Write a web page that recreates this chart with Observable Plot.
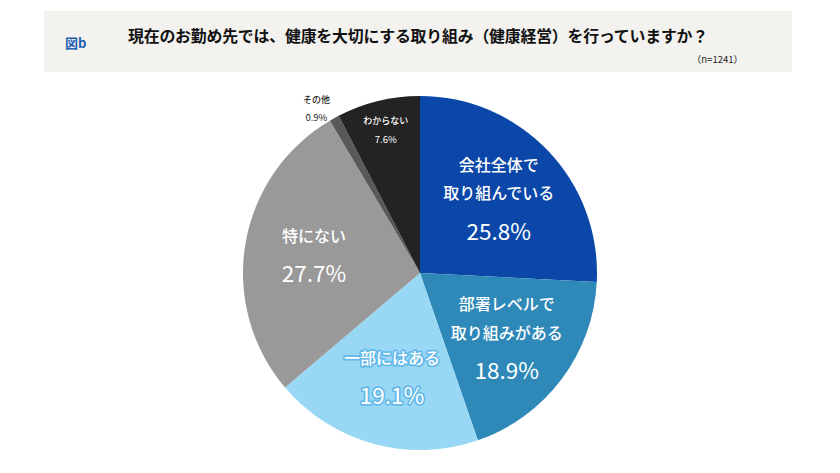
<!DOCTYPE html>
<html><head><meta charset="utf-8">
<script src="https://cdn.jsdelivr.net/npm/d3@7"></script>
<script src="https://cdn.jsdelivr.net/npm/@observablehq/plot@0.6"></script>
<style>
body{margin:0;background:#fff;font-family:"Noto Sans CJK JP","Noto Sans",sans-serif;}
#wrap{width:840px;height:473px;position:relative;overflow:hidden;}
#head{position:relative;width:840px;height:80px;}
#box{position:absolute;left:44px;top:11px;width:748px;height:61px;background:#f3f2ee;}
#fig{position:absolute;left:21px;top:24px;font-size:13px;font-weight:700;color:#1f5fb4;line-height:16px;}
#title{position:absolute;left:0;width:748px;text-align:center;top:15px;font-size:15.9px;font-weight:600;color:#111;line-height:20px;letter-spacing:-0.2px;}
#n{position:absolute;right:49px;top:42px;font-size:9.5px;color:#222;line-height:12px;}
#chart svg{display:block;}
</style></head>
<body><div id="wrap">
<div id="head"><div id="box">
<div id="fig">図b</div>
<div id="title">現在のお勤め先では、健康を大切にする取り組み（健康経営）を行っていますか？</div>
<div id="n">（n=1241）</div>
</div></div>
<div id="chart"></div>
</div>
<script>
const categories = ["会社全体で\n取り組んでいる","部署レベルで\n取り組みがある","一部にはある","特にない","その他","わからない"];
const values = [25.8, 18.9, 19.1, 27.7, 0.9, 7.6];
const percentLabels = ["25.8%","18.9%","19.1%","27.7%","0.9%","7.6%"];
const colors = ["#0a47a8","#2e88b8","#98d8f5","#999999","#595959","#232323"];
const textColors = ["#fff","#fff","#fff","#fff","#222","#fff"];

const data = categories.map((c,i)=>({name:c, value:values[i], pct:percentLabels[i], color:colors[i], tc:textColors[i]}));
const arcs = d3.pie().sort(null).value(d=>d.value)(data);
arcs.forEach(a=>{
  const outside = a.data.value<1;
  const ang = outside ? a.startAngle-0.03 : (a.startAngle+a.endAngle)/2;
  const r = outside ? 1.1 : a.data.value<10 ? 0.83 : 0.61;
  a.lx = r*Math.sin(ang); a.ly = r*Math.cos(ang);
  a.small = a.data.value<10;
});

const W=840, H=393, R=177, cx=420, cy=193;
const wedges = (index, scales) => {
  const x0=scales.x(0), y0=scales.y(0), rad=scales.x(1)-scales.x(0);
  const g=d3.create("svg:g").attr("transform",`translate(${x0},${y0})`);
  const arc=d3.arc().innerRadius(0).outerRadius(rad);
  g.selectAll("path").data(arcs).join("path").attr("d",arc).attr("fill",d=>d.data.color);
  return g.node();
};

const labelMarks = arcs.flatMap(a=>{
  const lines=a.data.name.split("\n");
  const big=!a.small;
  const sp = big?28.5:19, gap = big?38:18.5;
  const Hh=(lines.length-1)*sp+gap;
  const marks=[];
  const halo = a.data.name==="一部にはある";
  const common = {x:"lx", y:"ly", fill:a.data.tc, textAnchor:"middle",
    fontFamily:'"Noto Sans CJK JP",sans-serif'};
  if(halo){ common.stroke="#5cb4e6"; common.strokeWidth=3.5; common.strokeOpacity=0.85; }
  lines.forEach((t,i)=>{
    marks.push(Plot.text([a],{...common, text:()=>t, dy:-Hh/2+i*sp, fontSize: big?16:9, fontWeight:500}));
  });
  marks.push(Plot.text([a],{...common, text:d=>d.data.pct, dy:Hh/2, fontSize: big?22.5:9.5, fontWeight:400}));
  return marks;
});

const chart = Plot.plot({
  width:W, height:H,
  marginLeft:cx-R, marginRight:W-cx-R, marginTop:cy-R, marginBottom:H-cy-R,
  x:{domain:[-1,1], axis:null},
  y:{domain:[-1,1], axis:null},
  style:{background:"transparent"},
  marks:[
    Plot.dot([{x:-1,y:-1},{x:1,y:1}],{x:"x",y:"y",r:0,stroke:"none"}),
    wedges,
    ...labelMarks
  ]
});
document.getElementById("chart").appendChild(chart);
</script>
</body></html>
